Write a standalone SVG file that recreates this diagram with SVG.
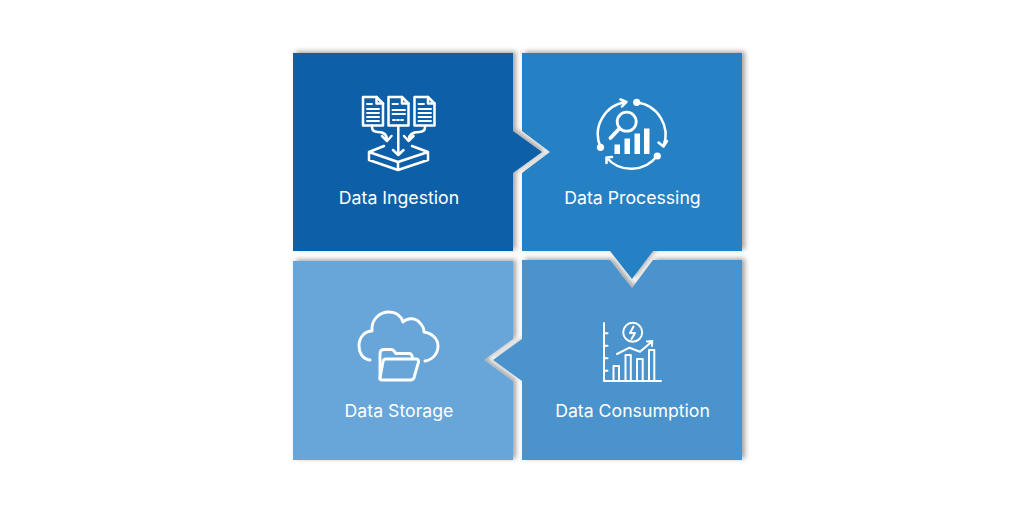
<svg xmlns="http://www.w3.org/2000/svg" width="1024" height="512" viewBox="0 0 1024 512">
<defs>
<filter id="sh" x="-10%" y="-10%" width="120%" height="120%"><feDropShadow dx="3" dy="-1.500" stdDeviation="2.600" flood-color="#000" flood-opacity="0.36"/></filter>
<filter id="b" x="-10%" y="-10%" width="120%" height="120%"><feGaussianBlur stdDeviation="0.35"/></filter>
<g id="doc"><path d="M0 0H13.500L20 6.500V28.500H0Z"/><path d="M13.500 0V6.500H20"/></g>
</defs>
<style>
.p{filter:url(#sh)}
.t{font-family:Inter,Roboto,"Liberation Sans",sans-serif;font-size:17.700px;fill:#fff;text-anchor:middle}
.i{fill:none;stroke:#fff;stroke-width:2.500;stroke-linecap:round;stroke-linejoin:round;filter:url(#b)}
.f{fill:#fff;stroke:none;filter:url(#b)}
</style>
<rect width="1024" height="512" fill="#fff"/>
<g id="connectors"></g>
<g id="storage">
<path class="p" fill="#68a5d8" d="M293 261H513V339L484 360L513 381V460H293Z"/>
<g class="i" style="stroke-width:2.900">
<path d="M370 360C362 359 359 352 359 346C359 337 365 331 372 331C371 320 379 312 389 312C396 312 401 316 403 322C408 317 416 318 420 323C423 326 424 329 424 332C432 333 438 339 438 346C438 354 432 360 425 361"/>
<path d="M380 379V354Q380 349.500 384 349.500H391Q393 349.500 394 351L396 353.500H409Q412 353.500 412.500 358"/>
<path d="M386 359H416Q419 359 418.500 362L414.500 376Q414 380 410 380H382Q379.500 380 380 378L383 362Q383.500 359 386 359Z"/>
</g>
<text class="t" x="399" y="417">Data Storage</text>
</g>
<g id="ingestion">
<path class="p" fill="#0860a8" d="M293 53H513V131L542 152L513 173V251H293Z"/>
<g class="i">
<use href="#doc" x="363" y="97"/><use href="#doc" x="388.500" y="97"/><use href="#doc" x="414.500" y="97"/>
</g>
<g class="i" style="stroke-width:1.900">
<path d="M367 104H372M367 109H379M367 113H379M367 117H379M367 121H379"/>
<path d="M392.500 104H398M392.500 110H405M392.500 114H405M393 120H395M397 120H399M401 120H403"/>
<path d="M418.500 104H424M418.500 109H431M418.500 113H431M418.500 117H431M418.500 121H431"/>
</g>
<g class="i">
<path d="M398.300 126V155M393 150L398.300 155L403.500 150"/>
<path d="M372 127Q372 132 378 132Q387 132 387 140M382 136L387 141L391.500 136"/>
<path d="M425 127Q425 132 419 132Q409 132 408.500 140M404 136L408.500 141L413.500 136"/>
<path d="M384 146L369 152L398 162L428 152L412 146M369 152V160L398 170L428 160V152M398 162V170"/>
</g>
<text class="t" x="399" y="204">Data Ingestion</text>
</g>
<g id="consumption">
<path class="p" fill="#4c93cc" d="M522 260H610L632 288L653 260H742V460H522V381L493 360L522 339Z"/>
<g class="i" style="stroke-width:2">
<path d="M604 323V381H661M604 333.300H607.500M604 345.700H607.500M604 358.300H607.500M604 370.700H607.500"/>
<path d="M613.500 381V366H619V381M625.500 381V355H630.800V381M637 381V359H642.700V381M649 381V350H654.300V381"/>
<path d="M617 354L629.500 347.700L640 351.700L651.700 341.700M647 341.500L652.300 341L652 346"/>
<circle cx="632.700" cy="332.300" r="9.500"/>
<path d="M633.500 326.500L630 333H635L631.500 339"/>
</g>
<text class="t" x="632.500" y="417">Data Consumption</text>
</g>
<g id="processing">
<path class="p" fill="#2880c4" d="M522 53H742V251H653L632 279L610 251H522V173L550 152L522 131Z"/>
<g class="i">
<path d="M600.500 147A32.500 32.500 0 0 1 626 102M620.500 99.500L626.500 101.800L622 106.500"/>
<path d="M637 102.500A32.500 32.500 0 0 1 663.500 146M658.500 142.500L663.500 146.500L667 141"/>
<path d="M657 156A32.500 32.500 0 0 1 606.500 157.500M606.500 163V157.500L612 157"/>
<circle cx="626.700" cy="121.700" r="9.500" style="stroke-width:2.800"/>
<path d="M619.500 128.500L610.500 138" style="stroke-width:3.800"/>
</g>
<g class="f">
<circle cx="600.500" cy="147.300" r="3.600"/><circle cx="636.700" cy="102.300" r="3.600"/><circle cx="657.300" cy="156" r="3.600"/>
<rect x="614.500" y="144.500" width="5.500" height="9.500"/><rect x="624.500" y="138.500" width="5.500" height="15.500"/><rect x="634.500" y="133.500" width="5.500" height="20.500"/><rect x="644" y="128.500" width="5.500" height="25.500"/>
</g>
<text class="t" x="632.500" y="204">Data Processing</text>
</g>
</svg>
